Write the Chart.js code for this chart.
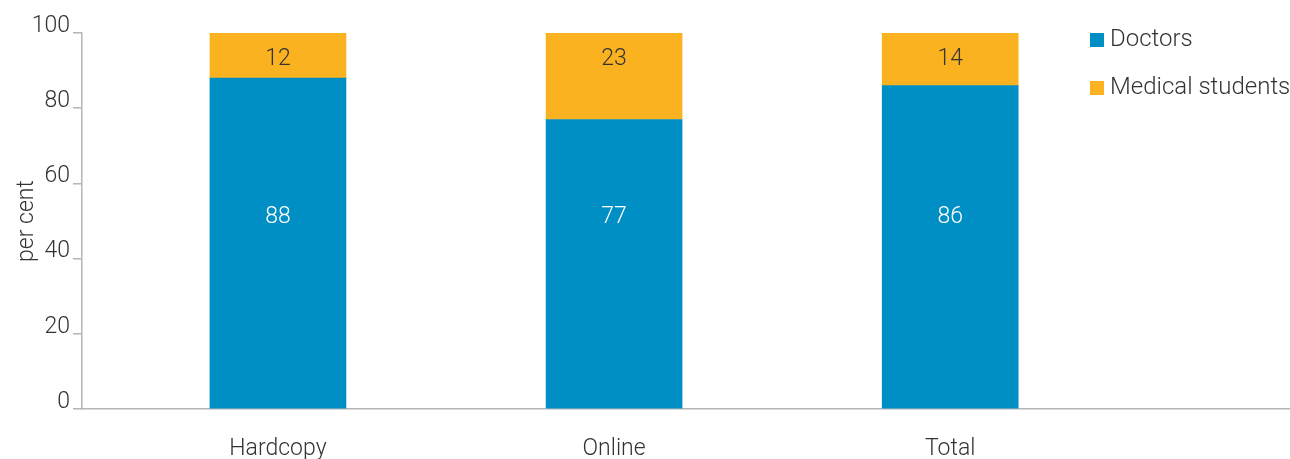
<!DOCTYPE html>
<html lang="en">
<head>
    <meta charset="UTF-8">
    <title>Doctors and medical students</title>
    <style>
        body {
            margin: 0;
            font-family: Roboto, Arial, sans-serif;
            font-weight: 300;
            background: #fff;
        }
        .wrap {
            position: relative;
            width: 1290px;
            height: 459px;
        }
        .legend {
            position: absolute;
            left: 1090px;
            top: 24px;
            color: #333;
            font-size: 24px;
        }
        .legend div {
            display: flex;
            align-items: center;
            height: 28px;
            margin-bottom: 20px;
            white-space: nowrap;
        }
        .legend span {
            display: inline-block;
            width: 14px;
            height: 14px;
            margin-right: 6px;
            margin-top: 4px;
        }
    </style>
</head>
<body>
    <div class="wrap">
        <canvas id="chart" width="1290" height="459"></canvas>
        <div class="legend" id="legend"></div>
    </div>
    <script src="https://cdn.jsdelivr.net/npm/chart.js"></script>
    <script>
        // values
        const categories = ['Hardcopy', 'Online', 'Total'];
        const doctors = [88, 77, 86];
        const students = [12, 23, 14];
        const yTicks = [0, 20, 40, 60, 80, 100];

        const blue = '#008fc4';
        const orange = '#fab221';
        const axisGrey = '#b5b5b5';
        const textColor = '#333333';
        const fontFamily = 'Roboto, Arial, sans-serif';

        const toPoints = arr => arr.map((v, i) => ({ x: i + 1, y: v }));

        // value labels: doctors around mid axis, students just under the top of the bar
        const segmentLabels = {
            id: 'segmentLabels',
            afterDatasetsDraw(chart) {
                const ctx = chart.ctx;
                const yScale = chart.scales.y;
                ctx.save();
                ctx.font = '300 23px ' + fontFamily;
                ctx.textAlign = 'center';
                ctx.textBaseline = 'middle';
                chart.data.datasets.forEach((ds, di) => {
                    const meta = chart.getDatasetMeta(di);
                    ctx.fillStyle = di === 0 ? '#ffffff' : textColor;
                    meta.data.forEach((bar, i) => {
                        const p = bar.getProps(['x', 'y', 'base'], true);
                        const ty = di === 0 ? yScale.getPixelForValue(50) - 4 : p.y + 26;
                        ctx.fillText(ds.data[i].y, p.x, ty);
                    });
                });
                ctx.restore();
            }
        };

        const chart = new Chart(document.getElementById('chart'), {
            type: 'bar',
            data: {
                datasets: [
                    { label: 'Doctors', data: toPoints(doctors), backgroundColor: blue },
                    { label: 'Medical students', data: toPoints(students), backgroundColor: orange }
                ]
            },
            options: {
                responsive: false,
                animation: false,
                layout: { padding: { top: 33, right: 1, left: 0, bottom: 0 } },
                plugins: {
                    legend: { display: false },
                    tooltip: { enabled: false }
                },
                datasets: { bar: { barThickness: 136 } },
                scales: {
                    x: {
                        type: 'linear',
                        stacked: true,
                        offset: false,
                        min: 0.417,
                        max: 4.008,
                        afterBuildTicks: s => { s.ticks = categories.map((c, i) => ({ value: i + 1 })); },
                        afterFit: s => { s.height = 50; },
                        grid: { display: false, drawTicks: false, offset: false },
                        border: { display: true, color: axisGrey, width: 1.5 },
                        ticks: {
                            color: textColor,
                            font: { family: fontFamily, size: 23, weight: 300 },
                            padding: 26,
                            maxRotation: 0,
                            autoSkip: false,
                            callback: v => categories[v - 1]
                        }
                    },
                    y: {
                        stacked: true,
                        min: 0,
                        max: 100,
                        afterBuildTicks: s => { s.ticks = yTicks.map(v => ({ value: v })); },
                        afterFit: s => { s.width = 82; },
                        grid: {
                            drawOnChartArea: false,
                            drawTicks: true,
                            tickLength: 9,
                            color: axisGrey,
                            lineWidth: 1.5
                        },
                        border: { display: true, color: axisGrey, width: 1.5 },
                        ticks: {
                            color: textColor,
                            font: { family: fontFamily, size: 23, weight: 300 },
                            padding: 3,
                            labelOffset: -7
                        },
                        title: {
                            display: true,
                            text: 'per cent',
                            color: textColor,
                            font: { family: fontFamily, size: 23, weight: 300 },
                            padding: { top: 13, bottom: 0 }
                        }
                    }
                }
            },
            plugins: [segmentLabels]
        });

        // legend as html, laid over the top right corner
        const legend = document.getElementById('legend');
        chart.data.datasets.forEach(ds => {
            const row = document.createElement('div');
            row.innerHTML = `<span style="background:${ds.backgroundColor}"></span>${ds.label}`;
            legend.appendChild(row);
        });
    </script>
</body>
</html>
